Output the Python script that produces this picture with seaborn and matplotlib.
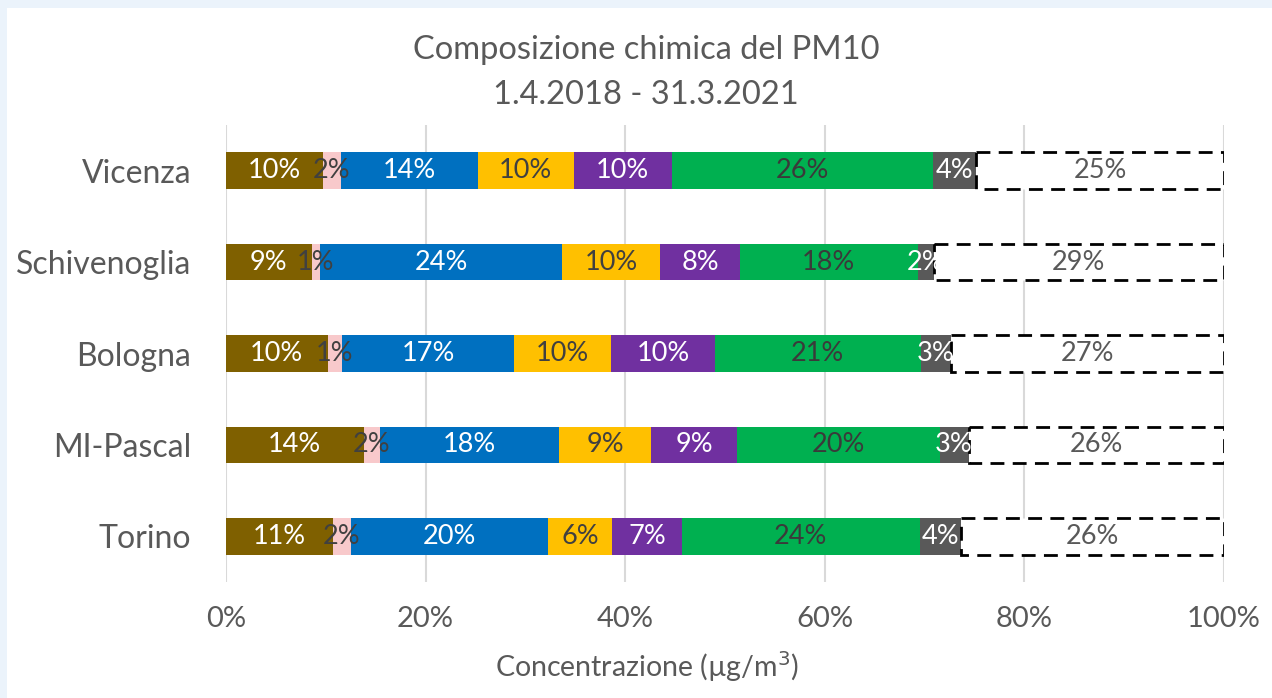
import matplotlib
matplotlib.use("Agg")
import matplotlib.pyplot as plt
import seaborn as sns
import pandas as pd
from matplotlib.patches import Rectangle

cities = ["Vicenza", "Schivenoglia", "Bologna", "MI-Pascal", "Torino"]
brown = [9.7, 8.6, 10.2, 13.8, 10.7]
pink = [1.8, 0.8, 1.4, 1.6, 1.8]
blue = [13.75, 24.3, 17.3, 18.0, 19.8]
yellow = [9.6, 9.8, 9.7, 9.2, 6.4]
purple = [9.8, 8.0, 10.4, 8.6, 7.0]
green = [26.2, 17.8, 20.6, 20.3, 23.8]
gray = [4.35, 1.6, 3.0, 2.9, 4.1]
other = [24.8, 29.1, 27.4, 25.6, 26.4]

series = [brown, pink, blue, yellow, purple, green, gray, other]
colors = ["#7F6000", "#F8C9CB", "#0070C0", "#FFC000", "#7030A0", "#00B050", "#595959", "#FFFFFF"]
text_colors = ["white", "#404040", "white", "#404040", "white", "#3a3a3a", "white", "#595959"]
xticks = [0, 20, 40, 60, 80, 100]

sns.set_theme(style="white")
plt.rcParams["font.family"] = ["Lato", "DejaVu Sans"]

fig = plt.figure(figsize=(12.72, 6.98), dpi=100)
fig.patch.set_facecolor("#EBF3FB")
fig.patches.append(Rectangle((7 / 1272, 0), 1 - 7 / 1272, 1 - 8 / 698,
                             transform=fig.transFigure, facecolor="white",
                             edgecolor="none", zorder=-10))
ax = fig.add_axes([226 / 1272, 116 / 698, 998 / 1272, 457 / 698])
ax.set_facecolor("none")
ax.set_zorder(5)

left = [0.0] * len(cities)
for i, (vals, col) in enumerate(zip(series, colors)):
    df = pd.DataFrame({"city": cities, "val": vals})
    n_before = len(ax.patches)
    is_last = i == len(series) - 1
    sns.barplot(data=df, x="val", y="city", order=cities, orient="h",
                color=col, saturation=1, width=0.4, ax=ax,
                edgecolor="black" if is_last else col,
                linewidth=2 if is_last else 0, zorder=3)
    new = ax.patches[n_before:]
    for j, p in enumerate(new):
        p.set_x(left[j])
        if is_last:
            p.set_linestyle((0, (5, 3)))
            p.set_facecolor("white")
    for j, v in enumerate(vals):
        ax.text(left[j] + v / 2, j, f"{round(v):d}%", ha="center", va="center",
                color=text_colors[i], fontsize=19.5, zorder=5)
        left[j] += v

ax.set_xlim(0, 100)
ax.set_ylim(4.5, -0.5)
ax.set_xticks(xticks)
ax.set_xticklabels([f"{t}%" for t in xticks])
ax.grid(axis="x", color="#D9D9D9", linewidth=1.5, zorder=0)
ax.set_axisbelow(True)
for s in ax.spines.values():
    s.set_visible(False)
ax.tick_params(axis="x", labelsize=21, colors="#595959", pad=17, length=0)
ax.tick_params(axis="y", labelsize=23, colors="#595959", pad=25, length=0)
ax.set_ylabel("")
ax.set_xlabel("Concentrazione (µg/m$^3$)", fontsize=20.5, color="#595959")
ax.xaxis.set_label_coords((647 - 226) / 998, -(667 - 582) / 457)
ax.xaxis.label.set_va("center")

fig.text(646 / 1272, 1 - 50 / 698, "Composizione chimica del PM10", ha="center", va="center",
         fontsize=23.5, color="#595959")
fig.text(646 / 1272, 1 - 95 / 698, "1.4.2018 - 31.3.2021", ha="center", va="center",
         fontsize=23.5, color="#595959")

fig.savefig("out.png", dpi=100, facecolor=fig.get_facecolor())
